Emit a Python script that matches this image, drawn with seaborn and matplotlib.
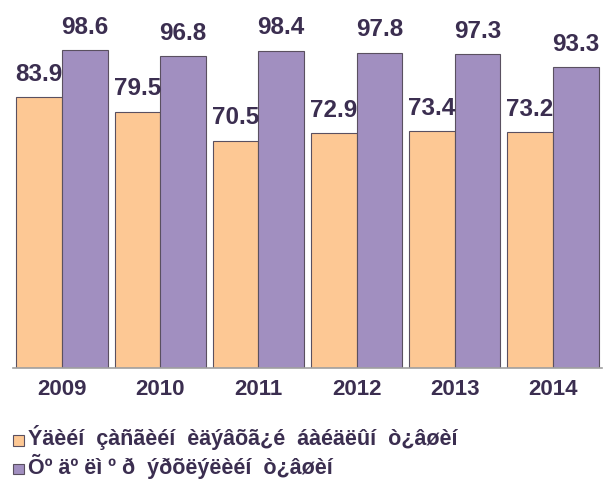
import pandas as pd
import matplotlib.pyplot as plt
import seaborn as sns

# values
years = ["2009", "2010", "2011", "2012", "2013", "2014"]
series_a = [83.9, 79.5, 70.5, 72.9, 73.4, 73.2]
series_b = [98.6, 96.8, 98.4, 97.8, 97.3, 93.3]
name_a = "Ýäèéí  çàñãèéí  èäýâõã¿é  áàéäëûí  ò¿âøèí"
name_b = "Õº äº ëì º ð  ýðõëýëèéí  ò¿âøèí"

df = pd.concat([
    pd.DataFrame({"year": years, "value": series_a, "series": name_a}),
    pd.DataFrame({"year": years, "value": series_b, "series": name_b}),
])

sns.set_style("white")
plt.rcParams["font.family"] = ["Liberation Sans", "DejaVu Sans"]
text_color = "#3b2e50"

fig = plt.figure(figsize=(6.05, 4.88), dpi=100)
ax = fig.add_axes([0.0215, 0.246, 0.9735, 0.727])

sns.barplot(
    data=df, x="year", y="value", hue="series",
    palette=["#fdc894", "#a18fc0"], width=0.93, gap=0.0,
    edgecolor="#5a5060", linewidth=0.8, saturation=1, ax=ax,
)

for container in ax.containers:
    ax.bar_label(container, fmt="%.1f", padding=8, fontsize=17.5,
                 fontweight="bold", color=text_color)

ax.set_ylim(0, 110)
ax.set_xlim(-0.5, 5.5)
ax.set_xlabel("")
ax.set_ylabel("")
ax.set_yticks([])
for side in ["left", "right", "top"]:
    ax.spines[side].set_visible(False)
ax.spines["bottom"].set_color("#a0a0a0")
ax.spines["bottom"].set_linewidth(1.2)

# boundary ticks between categories
ax.set_xticks([i - 0.5 for i in range(len(years) + 1)], minor=True)
ax.tick_params(axis="x", which="minor", length=7, color="#a0a0a0", width=1.2)
ax.tick_params(axis="x", which="major", length=0, pad=8, labelsize=16,
               labelcolor=text_color)
for lbl in ax.get_xticklabels():
    lbl.set_fontweight("bold")

handles, labels = ax.get_legend_handles_labels()
ax.legend_.remove()
leg = fig.legend(handles, labels, loc="center left", bbox_to_anchor=(0.0, 0.074),
                 frameon=False, handlelength=0.8, handleheight=0.8,
                 handletextpad=0.3, labelspacing=0.25)
for t in leg.get_texts():
    t.set_fontsize(15.5)
    t.set_fontweight("bold")
    t.set_color(text_color)

fig.savefig("out.png", dpi=100)
